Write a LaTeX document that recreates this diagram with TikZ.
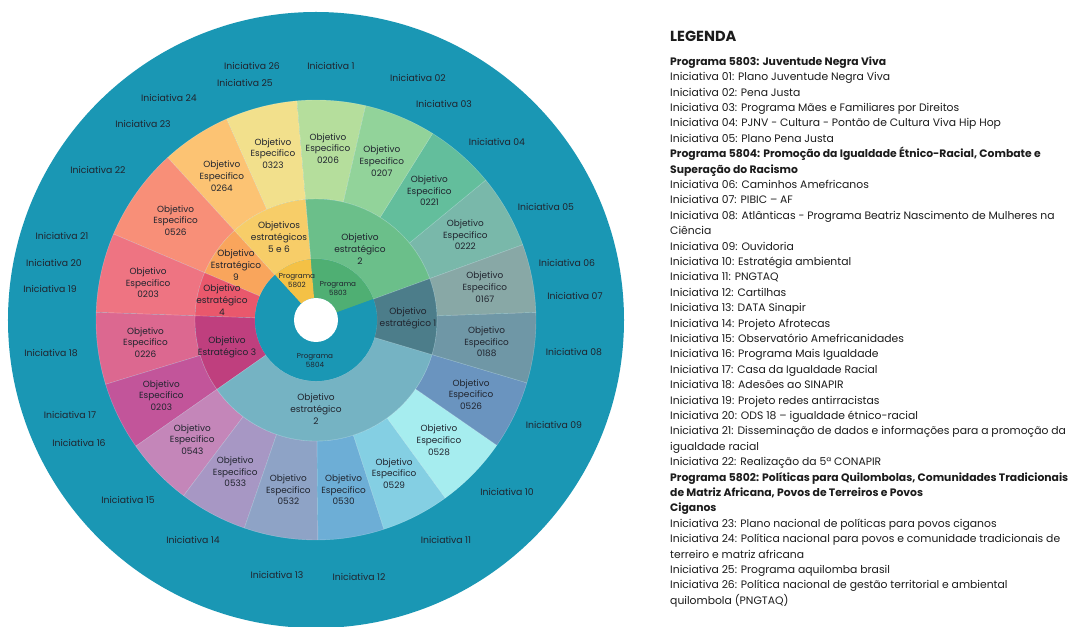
\documentclass[tikz,border=0pt]{standalone}
\usepackage{fontspec}
\setmainfont{Poppins}

\definecolor{anel}{HTML}{1A97B4}
\definecolor{texto}{HTML}{20242E}
\definecolor{legtexto}{HTML}{1C1C1C}
% programas
\definecolor{p5803}{HTML}{4FAF73}
\definecolor{p5802}{HTML}{F4C145}
% objetivos estrategicos
\definecolor{oeverde}{HTML}{6BBF8A}
\definecolor{oecinco}{HTML}{F7CD68}
\definecolor{oenove}{HTML}{F9A55C}
\definecolor{oequatro}{HTML}{E9586C}
\definecolor{oetres}{HTML}{BF3F7E}
\definecolor{oedois}{HTML}{75B3C3}
\definecolor{oeum}{HTML}{4C7D8A}
% objetivos especificos
\definecolor{ea}{HTML}{79B8AA}
\definecolor{eb}{HTML}{63BE9C}
\definecolor{ec}{HTML}{92D39A}
\definecolor{ed}{HTML}{B5DE9C}
\definecolor{ee}{HTML}{F2E08C}
\definecolor{ef}{HTML}{FCC373}
\definecolor{eg}{HTML}{F88F78}
\definecolor{eh}{HTML}{EE7482}
\definecolor{ei}{HTML}{DC6890}
\definecolor{ej}{HTML}{C2559A}
\definecolor{ek}{HTML}{C486B9}
\definecolor{el}{HTML}{A797C4}
\definecolor{em}{HTML}{8EA3C6}
\definecolor{en}{HTML}{6DAED6}
\definecolor{eo}{HTML}{84CFE3}
\definecolor{ep}{HTML}{A6EDEF}
\definecolor{eq}{HTML}{6A94BF}
\definecolor{er}{HTML}{6F97A6}
\definecolor{es}{HTML}{88A8A6}

\begin{document}
\begin{tikzpicture}[x=1pt, y=1pt,
	fatia/.style={draw=white, draw opacity=0.3, line width=0.4pt},
	iniciativa/.style={font=\fontsize{9.3}{11}\selectfont, text=texto, inner sep=0pt},
	especifico/.style={font=\fontsize{8.9}{11.6}\selectfont, text=texto, align=center, inner sep=0pt},
	estrategico/.style={font=\fontsize{9}{12}\selectfont, text=texto, align=center, inner sep=0pt},
	programa/.style={font=\fontsize{7.2}{9}\selectfont, text=texto, align=center, inner sep=0pt}]

	\useasboundingbox
		(-316,-306) rectangle (754,320);
	\fill
		[white] (-316,-306) rectangle (754,320);

	\fill
		[anel] (0,0) circle (308);

	\foreach \a/\b/\cor/\cod [count=\i] in {20/39.5/ea/0222, 39.5/58/eb/0221, 58/77/ec/0207, 77/95/ed/0206,
		95/114/ee/0323, 114/132.4/ef/0264, 132.4/157/eg/0526, 157/178/eh/0203, 178/197/ei/0226,
		197/215/ej/0203, 215/233/ek/0543, 233/251/el/0533, 251/270.5/em/0532, 270.5/288/en/0530,
		288/306/eo/0529, 306/325.3/ep/0528, 325.3/343.4/eq/0526, 343.4/362/er/0188, 362/380/es/0167}
	{
		\filldraw
			[fatia, fill=\cor] (\a:121) arc [start angle=\a, end angle=\b, radius=121]
			-- (\b:220) arc [start angle=\b, end angle=\a, radius=220] -- cycle;
		\pgfmathsetmacro{\meio}{(\a+\b)/2}
		\node [especifico] (esp\i) at (\meio:172) {Objetivo\\Especifico\\\cod};
	}

	\foreach \a/\b/\cor in {20/95/oeverde, 95/132.4/oecinco, 132.4/157/oenove, 157/178/oequatro,
		178/215/oetres, 215/343.4/oedois, 343.4/380/oeum}
		\filldraw
			[fatia, fill=\cor] (\a:61) arc [start angle=\a, end angle=\b, radius=61]
			-- (\b:121) arc [start angle=\b, end angle=\a, radius=121] -- cycle;

	\foreach \a/\b/\cor in {20/95/p5803, 95/132.4/p5802, 132.4/380/anel}
		\fill
			[\cor] (\a:22) arc [start angle=\a, end angle=\b, radius=22]
			-- (\b:61) arc [start angle=\b, end angle=\a, radius=61] -- cycle;

	\fill
		[white] (0,0) circle (22);

	\node [estrategico] (oe2verde) at (44,71) {Objetivo\\estratégico\\2};
	\node [estrategico] (oe56) at (-37,83) {Objetivos\\estratégicos\\5 e 6};
	\node [estrategico] (oe9) at (-80,55) {Objetivo\\Estratégico\\9};
	\node [estrategico] (oe4) at (-94,20) {Objetivo\\estratégico\\4};
	\node [estrategico] (oe3) at (-89,-27) {Objetivo\\Estratégico 3};
	\node [estrategico] (oe2azul) at (0,-89) {Objetivo\\estratégico\\2};
	\node [estrategico] (oe1) at (92,2) {Objetivo\\estratégico 1};

	\node [programa] (prog5802) at (-19,39) {Programa\\5802};
	\node [programa] (prog5803) at (22,31) {Programa\\5803};
	\node [programa] (prog5804) at (-1,-41) {Programa\\5804};

	\foreach \n/\px/\py in {26/252/66, 1/331/66, 02/418/78, 03/444/104, 04/497/142, 05/546/207,
		06/567/263, 07/575/296, 08/574/352, 09/554/425, 10/507/492, 11/446/540, 12/359/577,
		13/277/575, 14/193/540, 15/128/500, 16/79/443, 17/70/415, 18/51/353, 19/50/289,
		20/54/263, 21/62/236, 22/98/170, 23/143/124, 24/169/98, 25/245/83}
		\node [iniciativa] (ini\n) at ({\px-316},{320-\py}) {Iniciativa \n};

	\node
		[anchor=west, inner sep=0pt, font=\fontsize{14.6}{17}\selectfont\bfseries, text=legtexto]
		(titulo) at (354,284) {LEGENDA};

	\node
		[anchor=north west, inner sep=0pt, align=left, font=\fontsize{10.8}{15.4}\selectfont, text=legtexto]
		(legenda) at (354,263.5) {%
		\textbf{Programa 5803: Juventude Negra Viva}\\
		Iniciativa 01: Plano Juventude Negra Viva\\
		Iniciativa 02: Pena Justa\\
		Iniciativa 03: Programa Mães e Familiares por Direitos\\
		Iniciativa 04: PJNV - Cultura - Pontão de Cultura Viva Hip Hop\\
		Iniciativa 05: Plano Pena Justa\\
		\textbf{Programa 5804: Promoção da Igualdade Étnico-Racial, Combate e}\\
		\textbf{Superação do Racismo}\\
		Iniciativa 06: Caminhos Amefricanos\\
		Iniciativa 07: PIBIC – AF\\
		Iniciativa 08: Atlânticas - Programa Beatriz Nascimento de Mulheres na\\
		Ciência\\
		Iniciativa 09: Ouvidoria\\
		Iniciativa 10: Estratégia ambiental\\
		Iniciativa 11: PNGTAQ\\
		Iniciativa 12: Cartilhas\\
		Iniciativa 13: DATA Sinapir\\
		Iniciativa 14: Projeto Afrotecas\\
		Iniciativa 15: Observatório Amefricanidades\\
		Iniciativa 16: Programa Mais Igualdade\\
		Iniciativa 17: Casa da Igualdade Racial\\
		Iniciativa 18: Adesões ao SINAPIR\\
		Iniciativa 19: Projeto redes antirracistas\\
		Iniciativa 20: ODS 18 – igualdade étnico-racial\\
		Iniciativa 21: Disseminação de dados e informações para a promoção da\\
		igualdade racial\\
		Iniciativa 22: Realização da 5ª CONAPIR\\
		\textbf{Programa 5802: Políticas para Quilombolas, Comunidades Tradicionais}\\
		\textbf{de Matriz Africana, Povos de Terreiros e Povos}\\
		\textbf{Ciganos}\\
		Iniciativa 23: Plano nacional de políticas para povos ciganos\\
		Iniciativa 24: Política nacional para povos e comunidade tradicionais de\\
		terreiro e matriz africana\\
		Iniciativa 25: Programa aquilomba brasil\\
		Iniciativa 26: Política nacional de gestão territorial e ambiental\\
		quilombola (PNGTAQ)};
\end{tikzpicture}
\end{document}
